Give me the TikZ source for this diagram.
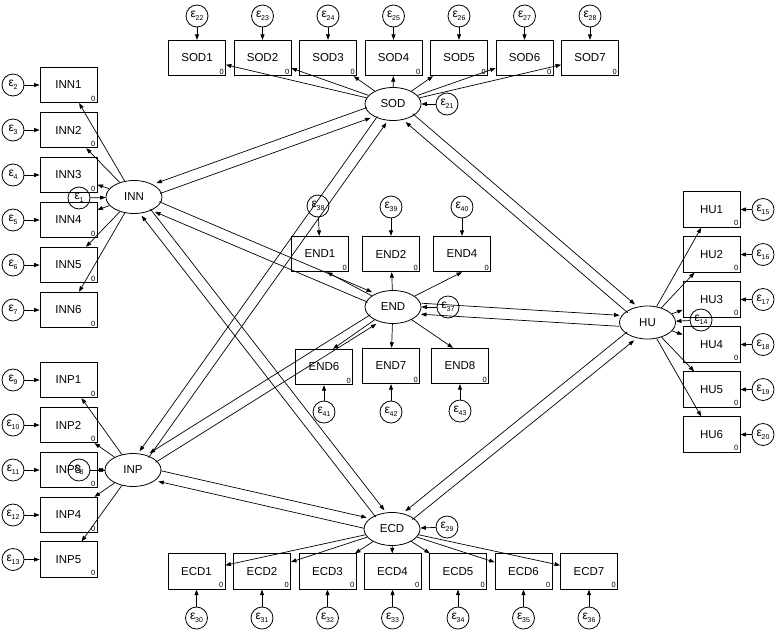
\documentclass[tikz,border=0pt]{standalone}
\usepackage{fontspec}
\setmainfont{Liberation Sans}
\usetikzlibrary{arrows.meta,shapes.geometric}
\tikzset{
  obsbox/.style={draw, line width=0.8pt, minimum width=57pt, minimum height=35.5pt, inner sep=0pt, font=\fontsize{11.5}{12}\selectfont},
  zerolab/.style={anchor=south east, inner sep=1.8pt, font=\fontsize{7.5}{8}\selectfont},
  latent/.style={draw, ellipse, line width=0.8pt, minimum width=56pt, minimum height=33pt, inner sep=0pt, font=\fontsize{11.5}{12}\selectfont},
  errc/.style={draw, circle, line width=0.8pt, minimum size=22pt, inner sep=0pt, font=\fontsize{12}{12}\selectfont},
  arr/.style={-{Triangle[length=5.5pt,width=4pt]}, line width=0.7pt},
}
\newcommand\obs[4]{\node[obsbox] (#1) at (#2,#3) {#4};\node[zerolab] (#1-z) at (#1.south east) {0};}
\newcommand\errnode[4]{\node[errc] (#1) at (#2,#3) {ε\kern-0.3pt\raisebox{-2.6pt}{\fontsize{7}{7}\selectfont #4}};}
\newcommand\recip[3]{%
  \pgfmathanglebetweenpoints{\pgfpointanchor{#1}{center}}{\pgfpointanchor{#2}{center}}%
  \let\recang\pgfmathresult
  \pgfmathsetmacro\angA{\recang+(#3)}%
  \pgfmathsetmacro\angB{\recang-(#3)}%
  \draw[arr, transform canvas={shift={(\angA:5.5pt)}}] (#1) -- (#2);
  \draw[arr, transform canvas={shift={(\angB:5.5pt)}}] (#2) -- (#1);
}
\begin{document}
\begin{tikzpicture}[x=1pt,y=-1pt]
\useasboundingbox (0,0) rectangle (781,630);

% latent variables
\node[latent] (INN) at (134,197) {INN};
\node[latent] (INP) at (133,470) {INP};
\node[latent] (SOD) at (393,104) {SOD};
\node[latent] (END) at (393,307) {END};
\node[latent] (ECD) at (392,529) {ECD};
\node[latent] (HU) at (647.5,322.5) {HU};

% latent errors
\errnode{e1}{79}{198}{1}
\errnode{e8}{79}{470}{8}
\errnode{e21}{447}{104}{21}
\errnode{e37}{448}{307}{37}
\errnode{e29}{447}{527}{29}
\errnode{e14}{701}{320}{14}
\draw[arr] (e1) -- (INN);
\draw[arr] (e8) -- (INP);
\draw[arr] (e21) -- (SOD);
\draw[arr] (e37) -- (END);
\draw[arr] (e29) -- (ECD);
\draw[arr] (e14) -- (HU);

% INN block
\foreach \i/\y/\e in {1/85/2, 2/130/3, 3/175/4, 4/220/5, 5/265/6, 6/310/7} {
  \obs{INN\i}{68.5}{\y}{INN\i}
  \errnode{e\e}{13}{\y}{\e}
  \draw[arr] (e\e) -- (INN\i);
  \draw[arr] (INN) -- (INN\i);
}
% INP block
\foreach \i/\y/\e in {1/380/9, 2/425/10, 3/470/11, 4/515/12, 5/559.5/13} {
  \obs{INP\i}{68.5}{\y}{INP\i}
  \errnode{e\e}{13}{\y}{\e}
  \draw[arr] (e\e) -- (INP\i);
  \draw[arr] (INP) -- (INP\i);
}
% SOD block
\foreach \i/\x/\e in {1/197/22, 2/262.5/23, 3/328/24, 4/393.5/25, 5/459/26, 6/524.5/27, 7/590/28} {
  \obs{SOD\i}{\x}{58}{SOD\i}
  \errnode{e\e}{\x}{16}{\e}
  \draw[arr] (e\e) -- (SOD\i);
  \draw[arr] (SOD) -- (SOD\i);
}
% ECD block
\foreach \i/\x/\e in {1/196.5/30, 2/262/31, 3/327.5/32, 4/392.5/33, 5/458/34, 6/523.5/35, 7/589/36} {
  \obs{ECD\i}{\x}{571.5}{ECD\i}
  \errnode{e\e}{\x}{618}{\e}
  \draw[arr] (e\e) -- (ECD\i);
  \draw[arr] (ECD) -- (ECD\i);
}
% HU block
\foreach \i/\y/\e in {1/209.5/15, 2/254.5/16, 3/299.5/17, 4/344.5/18, 5/389.5/19, 6/434.5/20} {
  \obs{HU\i}{711.5}{\y}{HU\i}
  \errnode{e\e}{763}{\y}{\e}
  \draw[arr] (e\e) -- (HU\i);
  \draw[arr] (HU) -- (HU\i);
}
% END block
\obs{END1}{320}{254}{END1}
\obs{END2}{391}{254}{END2}
\obs{END4}{462}{254}{END4}
\obs{END6}{324}{367}{END6}
\obs{END7}{391}{366}{END7}
\obs{END8}{460}{366}{END8}
\errnode{e38}{318}{206}{38}
\errnode{e39}{391}{207}{39}
\errnode{e40}{462}{207}{40}
\errnode{e41}{324}{412}{41}
\errnode{e42}{391}{412}{42}
\errnode{e43}{460}{411}{43}
\draw[arr] (e38) -- (END1);
\draw[arr] (e39) -- (END2);
\draw[arr] (e40) -- (END4);
\draw[arr] (e41) -- (END6);
\draw[arr] (e42) -- (END7);
\draw[arr] (e43) -- (END8);
\draw[arr] (END) -- ([xshift=7pt]END1.south);
\draw[arr] (END) -- (END2);
\draw[arr] (END) -- (END4.south);
\draw[arr] (END) -- ([xshift=9pt]END6.north);
\draw[arr] (END) -- (END7);
\draw[arr] (END) -- ([xshift=-7pt]END8.north);

% structural reciprocal paths
\recip{INN}{SOD}{-90}
\recip{INN}{END}{90}
\recip{INN}{ECD}{90}
\recip{INP}{SOD}{-90}
\recip{INP}{END}{-90}
\recip{INP}{ECD}{90}
\recip{SOD}{HU}{90}
\recip{END}{HU}{90}
\recip{ECD}{HU}{-90}
\end{tikzpicture}
\end{document}
